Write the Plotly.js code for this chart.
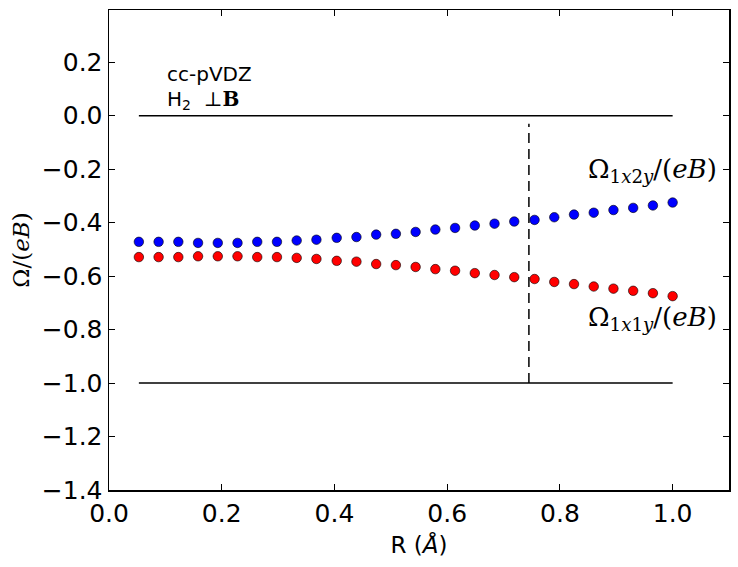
<!DOCTYPE html>
<html>
<head>
<meta charset="utf-8">
<script src="https://cdn.plot.ly/plotly-3.0.1.min.js"></script>
<style>html,body{margin:0;padding:0;background:#fff;}</style>
</head>
<body>
<div id="chart" style="width:738px;height:567px;"></div>
<script>
// Bond length R (Å)
var R = [0.053, 0.088, 0.123, 0.158, 0.193, 0.228, 0.263, 0.298, 0.333, 0.368,
         0.404, 0.439, 0.474, 0.509, 0.544, 0.579, 0.614, 0.649, 0.684, 0.719,
         0.755, 0.790, 0.825, 0.860, 0.895, 0.930, 0.965, 1.000];
// Omega_1x2y/(eB)  (blue)
var omega1x2y = [-0.472, -0.472, -0.472, -0.476, -0.476, -0.476, -0.472, -0.472, -0.467, -0.464,
                 -0.457, -0.454, -0.445, -0.442, -0.435, -0.426, -0.420, -0.411, -0.404, -0.396,
                 -0.390, -0.380, -0.370, -0.363, -0.353, -0.345, -0.336, -0.325];
// Omega_1x1y/(eB)  (red)
var omega1x1y = [-0.529, -0.529, -0.529, -0.526, -0.526, -0.526, -0.529, -0.529, -0.532, -0.536,
                 -0.543, -0.546, -0.555, -0.559, -0.566, -0.574, -0.580, -0.589, -0.596, -0.604,
                 -0.611, -0.622, -0.630, -0.639, -0.647, -0.655, -0.664, -0.675];
// reference lines
var refX = [0.053, 1.000];
var refZero = [0.0, 0.0];
var refMinusOne = [-1.0, -1.0];
var eqR = [0.745, 0.745];
var eqY = [-1.0, -0.03];
var yTicks = [-1.4, -1.2, -1.0, -0.8, -0.6, -0.4, -0.2, 0.0, 0.2];
var xTicks = [0.0, 0.2, 0.4, 0.6, 0.8, 1.0];

var traces = [
  {x: refX, y: refZero, mode: 'lines', line: {color: '#000', width: 1.5}, hoverinfo: 'skip'},
  {x: refX, y: refMinusOne, mode: 'lines', line: {color: '#000', width: 1.5}, hoverinfo: 'skip'},
  {x: eqR, y: eqY, mode: 'lines', line: {color: '#000', width: 1.5, dash: '10px,6px'}, hoverinfo: 'skip'},
  {x: R, y: omega1x2y, mode: 'markers',
   marker: {color: '#0000ff', size: 9.5, line: {color: '#000', width: 0.6}}},
  {x: R, y: omega1x1y, mode: 'markers',
   marker: {color: '#ff0000', size: 9.5, line: {color: '#000', width: 0.6}}}
];

var tickFont = {family: 'DejaVu Sans', size: 25, color: '#000'};
var mathFont = {family: 'DejaVu Serif', size: 26, color: '#000'};

var layout = {
  width: 738, height: 567,
  margin: {l: 109, r: 9, t: 10, b: 77},
  paper_bgcolor: '#fff', plot_bgcolor: '#fff',
  showlegend: false,
  xaxis: {
    range: [0, 1.1], tickvals: xTicks, ticktext: xTicks.map(function(v){return v.toFixed(1);}),
    ticks: 'inside', ticklen: 6, tickwidth: 1, tickcolor: '#000',
    showline: true, linecolor: '#000', linewidth: 1.5, mirror: 'ticks',
    showgrid: false, zeroline: false, tickfont: tickFont,
    title: {text: 'R (<i>Å</i>)', font: {family: 'DejaVu Sans', size: 23, color: '#000'}, standoff: 10}
  },
  yaxis: {
    range: [-1.4, 0.395], tickvals: yTicks, ticktext: yTicks.map(function(v){return (v<0?'\u2212':'') + Math.abs(v).toFixed(1);}),
    ticks: 'inside', ticklen: 6, tickwidth: 1, tickcolor: '#000',
    showline: true, linecolor: '#000', linewidth: 1.5, mirror: 'ticks',
    showgrid: false, zeroline: false, tickfont: tickFont,
    title: {text: 'Ω/(<i>eB</i>)', font: {family: 'DejaVu Serif', size: 23, color: '#000'}, standoff: 5}
  },
  annotations: [
    {x: 0.099, y: 0.154, xref: 'x', yref: 'y', xanchor: 'left', yanchor: 'middle', showarrow: false,
     text: 'cc-pVDZ', font: {family: 'DejaVu Sans', size: 20, color: '#000'}},
    {x: 0.099, y: 0.057, xref: 'x', yref: 'y', xanchor: 'left', yanchor: 'middle', showarrow: false,
     text: 'H<sub>2</sub>  <span style="font-family:DejaVu Serif">⊥<b>B</b></span>', font: {family: 'DejaVu Sans', size: 20, color: '#000'}},
    {x: 1.083, y: -0.204, xref: 'x', yref: 'y', xanchor: 'right', yanchor: 'middle', showarrow: false,
     text: 'Ω<sub>1<i>x</i>2<i>y</i></sub>/(<i>eB</i>)', font: mathFont},
    {x: 1.083, y: -0.758, xref: 'x', yref: 'y', xanchor: 'right', yanchor: 'middle', showarrow: false,
     text: 'Ω<sub>1<i>x</i>1<i>y</i></sub>/(<i>eB</i>)', font: mathFont}
  ]
};

Plotly.newPlot('chart', traces, layout, {staticPlot: true, displayModeBar: false});
</script>
</body>
</html>
